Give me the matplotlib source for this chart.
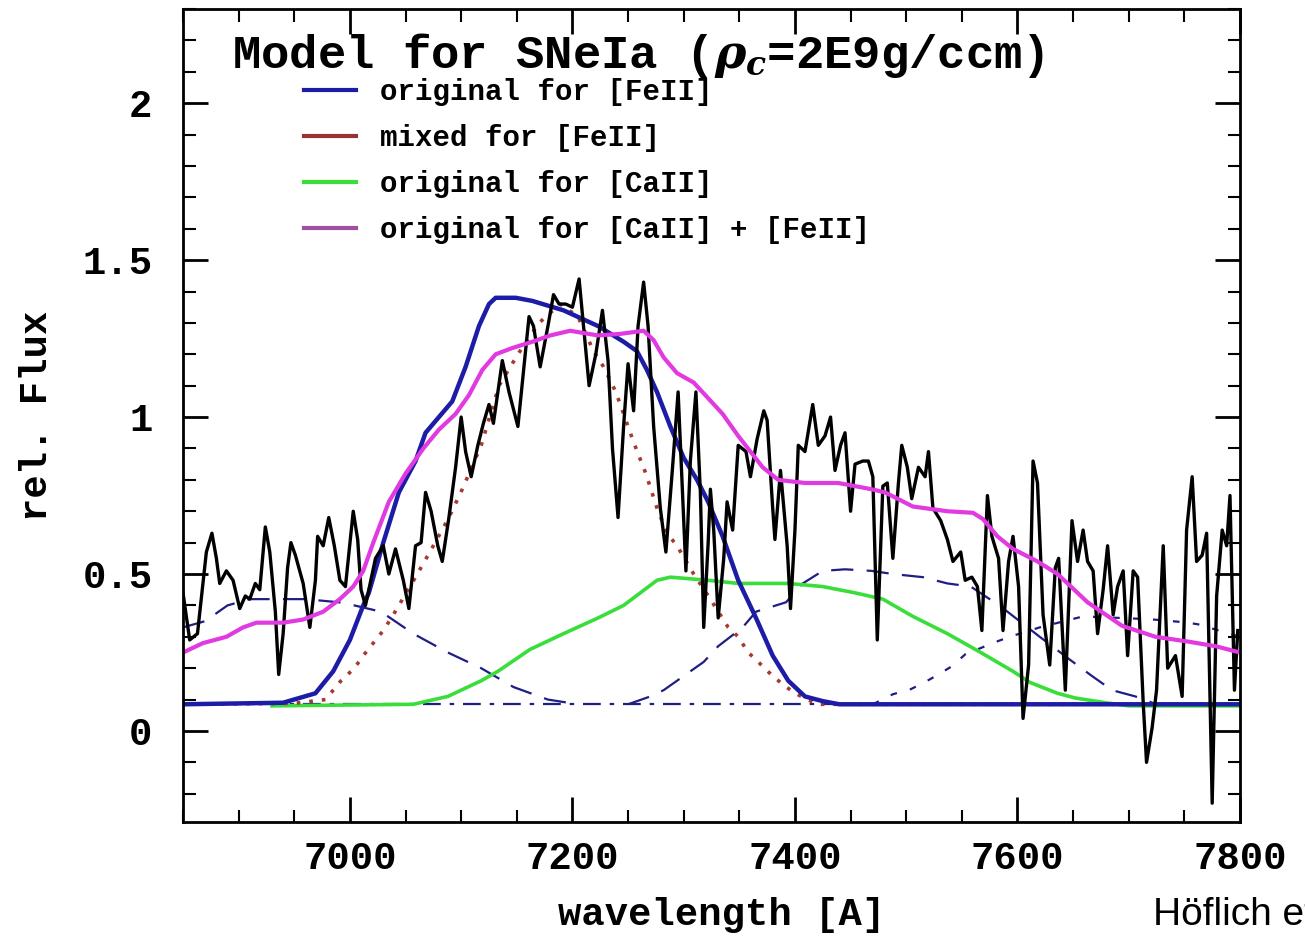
import matplotlib
matplotlib.use('Agg')
import matplotlib.pyplot as plt
from matplotlib.lines import Line2D
from matplotlib.ticker import MultipleLocator, FuncFormatter

# observed spectrum (black)
obs_wl = [6850, 6856, 6863, 6871, 6876, 6880, 6883, 6889, 6895, 6901,
          6906, 6910, 6915, 6919, 6924, 6928, 6933, 6936, 6940, 6944,
          6947, 6951, 6958, 6964, 6969, 6971, 6976, 6981, 6986, 6991,
          6996, 7003, 7007, 7010, 7014, 7023, 7030, 7035, 7041, 7048,
          7053, 7059, 7064, 7068, 7073, 7079, 7083, 7089, 7095, 7100,
          7104, 7109, 7115, 7120, 7125, 7129, 7137, 7143, 7151, 7155,
          7161, 7165, 7171, 7178, 7183, 7188, 7194, 7200, 7206, 7210,
          7215, 7221, 7227, 7232, 7236, 7241, 7246, 7250, 7255, 7259,
          7264, 7268, 7273, 7279, 7284, 7290, 7295, 7302, 7306, 7311,
          7315, 7318, 7322, 7324, 7327, 7331, 7336, 7339, 7344, 7349,
          7356, 7360, 7366, 7372, 7375, 7380, 7382, 7387, 7393, 7396,
          7400, 7403, 7409, 7416, 7421, 7427, 7432, 7436, 7441, 7445,
          7450, 7454, 7461, 7466, 7470, 7474, 7479, 7483, 7488, 7493,
          7496, 7501, 7505, 7511, 7517, 7520, 7524, 7531, 7537, 7542,
          7549, 7553, 7559, 7564, 7568, 7573, 7577, 7583, 7587, 7592,
          7596, 7601, 7605, 7610, 7614, 7618, 7623, 7629, 7634, 7637,
          7643, 7649, 7654, 7659, 7663, 7668, 7672, 7677, 7681, 7686,
          7690, 7695, 7699, 7704, 7708, 7713, 7716, 7721, 7725, 7731,
          7735, 7742, 7748, 7752, 7757, 7761, 7766, 7770, 7775, 7779,
          7784, 7788, 7791, 7795, 7798]
obs_flux = [0.44, 0.29, 0.31, 0.57, 0.63, 0.55, 0.47, 0.51, 0.48, 0.39,
            0.43, 0.42, 0.47, 0.45, 0.65, 0.57, 0.38, 0.18, 0.31, 0.52,
            0.60, 0.56, 0.47, 0.33, 0.48, 0.62, 0.59, 0.68, 0.59, 0.48,
            0.46, 0.70, 0.61, 0.45, 0.40, 0.55, 0.59, 0.50, 0.58, 0.48,
            0.39, 0.59, 0.60, 0.76, 0.70, 0.59, 0.54, 0.68, 0.84, 1.00,
            0.89, 0.81, 0.91, 0.98, 1.04, 0.98, 1.18, 1.08, 0.97, 1.11,
            1.32, 1.29, 1.16, 1.29, 1.39, 1.36, 1.36, 1.35, 1.44, 1.29,
            1.10, 1.20, 1.34, 1.18, 0.90, 0.68, 0.97, 1.17, 1.02, 1.29,
            1.43, 1.29, 0.97, 0.71, 0.57, 0.84, 1.08, 0.51, 0.86, 1.08,
            0.76, 0.33, 0.60, 0.77, 0.64, 0.36, 0.55, 0.73, 0.64, 0.91,
            0.89, 0.81, 0.93, 1.02, 0.99, 0.71, 0.61, 0.83, 0.59, 0.39,
            0.64, 0.91, 0.89, 1.04, 0.91, 0.94, 1.00, 0.83, 0.91, 0.95,
            0.70, 0.85, 0.86, 0.86, 0.81, 0.29, 0.78, 0.79, 0.55, 0.79,
            0.91, 0.84, 0.74, 0.84, 0.81, 0.89, 0.71, 0.67, 0.61, 0.54,
            0.57, 0.48, 0.49, 0.46, 0.32, 0.75, 0.62, 0.55, 0.32, 0.54,
            0.62, 0.46, 0.04, 0.21, 0.86, 0.79, 0.37, 0.21, 0.52, 0.55,
            0.13, 0.67, 0.54, 0.64, 0.54, 0.51, 0.31, 0.45, 0.59, 0.37,
            0.46, 0.51, 0.24, 0.51, 0.49, 0.09, -0.10, 0.01, 0.13, 0.59,
            0.20, 0.24, 0.11, 0.64, 0.81, 0.54, 0.56, 0.63, -0.23, 0.43,
            0.64, 0.59, 0.75, 0.13, 0.32]

# original for [FeII] (blue)
fe_wl = [6850, 6940, 6969, 6985, 7000, 7012, 7017, 7030, 7044, 7059,
         7068, 7080, 7092, 7104, 7116, 7125, 7131, 7149, 7164, 7192,
         7223, 7246, 7258, 7267, 7276, 7288, 7300, 7312, 7322, 7335,
         7349, 7365, 7380, 7394, 7409, 7425, 7440, 7800]
fe_flux = [0.085, 0.09, 0.12, 0.19, 0.29, 0.40, 0.44, 0.60, 0.76, 0.86,
           0.95, 1.00, 1.05, 1.16, 1.29, 1.36, 1.38, 1.38, 1.37, 1.34,
           1.29, 1.24, 1.21, 1.15, 1.08, 0.97, 0.87, 0.80, 0.73, 0.62,
           0.48, 0.36, 0.24, 0.16, 0.11, 0.095, 0.085, 0.085]

# mixed for [FeII] (red dotted)
mix_wl = [6850, 6950, 6978, 6992, 7004, 7012, 7030, 7039, 7059, 7075,
          7089, 7101, 7118, 7134, 7151, 7170, 7189, 7205, 7219, 7228,
          7239, 7245, 7255, 7266, 7276, 7285, 7294, 7309, 7324, 7340,
          7349, 7358, 7367, 7380, 7392, 7403, 7420, 7800]
mix_flux = [0.085, 0.088, 0.10, 0.16, 0.20, 0.24, 0.32, 0.37, 0.49, 0.59,
            0.68, 0.77, 0.91, 1.10, 1.20, 1.30, 1.36, 1.32, 1.21, 1.16,
            1.08, 1.02, 0.92, 0.82, 0.71, 0.63, 0.59, 0.50, 0.42, 0.33,
            0.30, 0.25, 0.22, 0.175, 0.14, 0.115, 0.085, 0.085]

# original for [CaII] (green)
ca_wl = [6930, 7057, 7088, 7118, 7133, 7162, 7192, 7223, 7246, 7261,
         7276, 7288, 7322, 7349, 7394, 7425, 7454, 7479, 7506, 7537,
         7567, 7596, 7611, 7636, 7652, 7679, 7700, 7800]
ca_flux = [0.08, 0.085, 0.11, 0.16, 0.19, 0.26, 0.31, 0.36, 0.40, 0.44,
           0.48, 0.49, 0.48, 0.47, 0.47, 0.46, 0.44, 0.42, 0.365, 0.31,
           0.25, 0.19, 0.155, 0.12, 0.105, 0.09, 0.08, 0.08]

# original for [CaII] + [FeII] (magenta)
sum_wl = [6850, 6868, 6889, 6904, 6916, 6940, 6958, 6976, 6991, 7003,
          7012, 7021, 7035, 7050, 7066, 7080, 7095, 7107, 7119, 7131,
          7146, 7164, 7180, 7198, 7223, 7243, 7264, 7273, 7282, 7294,
          7309, 7322, 7335, 7349, 7371, 7385, 7409, 7439, 7469, 7481,
          7506, 7537, 7560, 7569, 7582, 7596, 7618, 7636, 7663, 7694,
          7724, 7753, 7778, 7800]
sum_flux = [0.25, 0.28, 0.30, 0.33, 0.345, 0.345, 0.355, 0.38, 0.42, 0.46,
            0.51, 0.60, 0.73, 0.82, 0.90, 0.96, 1.01, 1.07, 1.15, 1.20,
            1.22, 1.24, 1.26, 1.275, 1.26, 1.265, 1.275, 1.245, 1.19, 1.14,
            1.11, 1.06, 1.01, 0.94, 0.84, 0.80, 0.79, 0.79, 0.77, 0.76,
            0.715, 0.70, 0.695, 0.675, 0.62, 0.58, 0.54, 0.50, 0.41, 0.335,
            0.30, 0.285, 0.27, 0.25]

# single components (thin dark blue)
c1_wl = [6850, 6870, 6890, 6910, 6960, 6990, 7004, 7028, 7057, 7088,
         7118, 7147, 7178, 7205]
c1_flux = [0.33, 0.35, 0.40, 0.42, 0.42, 0.41, 0.40, 0.38, 0.31, 0.25,
           0.20, 0.14, 0.10, 0.085]
c2_wl = [7250, 7270, 7282, 7300, 7318, 7331, 7353, 7365, 7392, 7407,
         7425, 7445, 7469, 7488, 7515, 7537, 7558, 7575, 7591, 7620,
         7646, 7667, 7685, 7706, 7725]
c2_flux = [0.085, 0.11, 0.13, 0.175, 0.22, 0.27, 0.33, 0.38, 0.41, 0.47,
           0.51, 0.515, 0.51, 0.50, 0.49, 0.47, 0.46, 0.42, 0.38, 0.30,
           0.23, 0.175, 0.13, 0.11, 0.085]
c3_wl = [7470, 7488, 7504, 7517, 7529, 7541, 7553, 7580, 7593, 7620,
         7659, 7719, 7751, 7762, 7800]
c3_flux = [0.085, 0.117, 0.133, 0.156, 0.18, 0.206, 0.244, 0.283, 0.30, 0.33,
           0.365, 0.356, 0.346, 0.34, 0.30]
cont_wl = [6850, 7800]
cont_flux = [0.085, 0.085]

LEG_LABELS = ['original for [FeII]', 'mixed for [FeII]',
              'original for [CaII]', 'original for [CaII] + [FeII]']

C_BLUE = '#1c1ca6'
C_RED = '#a63a30'
C_GREEN = '#3ade3a'
C_MAG = '#e03ae0'
C_DARK = '#1e1e84'

plt.rcParams['font.family'] = ['Liberation Mono', 'DejaVu Sans']
plt.rcParams['font.weight'] = 'bold'
plt.rcParams['axes.labelweight'] = 'bold'
plt.rcParams['mathtext.fontset'] = 'dejavuserif'

fig = plt.figure(figsize=(13.05, 9.46), dpi=100)
ax = fig.add_axes([183 / 1305, 1 - 822 / 946, 1057 / 1305, 813 / 946])

ax.plot(cont_wl, cont_flux, color=C_DARK, lw=1.6, ls=(0, (8, 4, 2, 4)))
ax.plot(c1_wl, c1_flux, color=C_DARK, lw=1.6, ls=(0, (10, 6)))
ax.plot(c2_wl, c2_flux, color=C_DARK, lw=1.6, ls=(0, (10, 6)))
ax.plot(c3_wl, c3_flux, color=C_DARK, lw=1.6, ls=(0, (3, 6)))
ax.plot(ca_wl, ca_flux, color=C_GREEN, lw=2.6)
ax.plot(mix_wl, mix_flux, color=C_RED, lw=2.6, ls=(0, (1, 2.5)))
ax.plot(fe_wl, fe_flux, color=C_BLUE, lw=3.2)
ax.plot(obs_wl, obs_flux, color='black', lw=2.4)
ax.plot(sum_wl, sum_flux, color=C_MAG, lw=3.0)

ax.set_xlim(6850, 7800)
ax.set_ylim(-0.29, 2.30)
ax.xaxis.set_major_locator(MultipleLocator(200))
ax.xaxis.set_minor_locator(MultipleLocator(50))
ax.yaxis.set_major_locator(MultipleLocator(0.5))
ax.yaxis.set_minor_locator(MultipleLocator(0.1))
ax.yaxis.set_major_formatter(FuncFormatter(lambda v, p: f'{v:g}'))
ax.tick_params(which='both', direction='in', top=True, right=True,
               labelsize=28)
ax.tick_params(which='major', length=18, width=2)
ax.tick_params(which='minor', length=9, width=1.5)
ax.tick_params(axis='x', pad=14)
ax.tick_params(axis='y', pad=22)
for sp in ax.spines.values():
    sp.set_linewidth(2)

ax.set_xlabel('wavelength [A]', fontsize=28)
ax.set_ylabel('rel. Flux', fontsize=28)
ax.xaxis.set_label_coords(0.51, -0.092)
ax.yaxis.set_label_coords(-0.121, 0.5)

ax.text(0.046, 0.927, r'Model for SNeIa ($\rho_c$=2E9g/ccm)',
        transform=ax.transAxes, fontsize=34, va='baseline', ha='left')

handles = [Line2D([], [], color=c, lw=3) for c in [C_BLUE, '#993333', C_GREEN, '#a050a0']]
ax.legend(handles, LEG_LABELS, loc='upper left', bbox_to_anchor=(0.095, 0.94),
          frameon=False, fontsize=21, handlelength=1.8, handletextpad=0.8,
          labelspacing=0.62, borderpad=0.2)

fig.text(1153 / 1305, 1 - 925 / 946, 'Höflich et al.', family='Liberation Sans',
         fontsize=28, weight='normal', va='baseline', ha='left')

fig.savefig('out.png', dpi=100)
